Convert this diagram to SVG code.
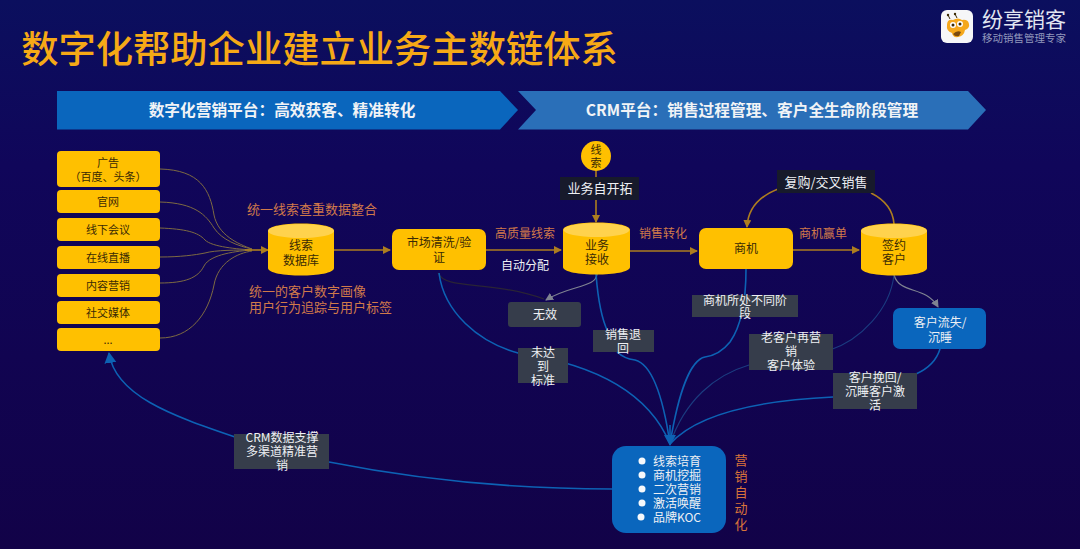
<svg xmlns="http://www.w3.org/2000/svg" width="1080" height="549" viewBox="0 0 1080 549">
<style>
text{font-family:"Noto Sans CJK SC","Noto Sans",sans-serif;text-anchor:middle}
.d{fill:#3a2a05;font-size:12px}
.s{font-size:11px}
.w{fill:#eef0f4;font-size:12px}
.h{fill:#eef0f4;font-size:13px}
.o{fill:#d07a4a;font-size:12px}
.u{fill:#d07a4a;font-size:13px}
.v{fill:#d9743a;font-size:13px}
.b{fill:#f1f3f6;font-size:15.700px;font-weight:700}
.n{fill:#ffc000}
.g{fill:#363d4b}
.k{fill:#171a2b}
.c{fill:none;stroke:#ad7d1f;stroke-width:1.6}
.t{fill:none;stroke:#7d6a42;stroke-width:1}
.l{fill:none;stroke:#0d62b4;stroke-width:1.6}
.f{fill:none;stroke:#1b3c80;stroke-width:1.1}
.y{fill:none;stroke:#7f8391;stroke-width:1.2}
</style>
<defs>
<linearGradient id="bg" x1="0" y1="0" x2="0" y2="1"><stop offset="0" stop-color="#0b0f5e"/><stop offset=".3" stop-color="#10065a"/><stop offset="1" stop-color="#120248"/></linearGradient>
<marker id="ao" markerWidth="9" markerHeight="9" refX="7" refY="4" orient="auto" markerUnits="userSpaceOnUse"><path d="M0 0L8 4L0 8Z" fill="#ad7d1f"/></marker>
<marker id="ab" markerWidth="13" markerHeight="13" refX="10" refY="6" orient="auto" markerUnits="userSpaceOnUse"><path d="M0 0L11 6L0 12Z" fill="#0d62b4"/></marker>
<marker id="ag" markerWidth="9" markerHeight="9" refX="7" refY="4" orient="auto" markerUnits="userSpaceOnUse"><path d="M0 0L8 4L0 8Z" fill="#7f8391"/></marker>
</defs>
<rect width="1080" height="549" fill="url(#bg)"/>
<text x="319.500" y="63" style="font-size:37.300px;font-weight:500;fill:#f6a916">数字化帮助企业建立业务主数链体系</text>
<g id="logo">
<rect x="941" y="10" width="32" height="33" rx="6" fill="#f6f6f8"/>
<path d="M947 25Q947 19 953 20Q958 17 962 20Q968 19 969 24Q970 28 965 30Q964 36 958 37Q953 38 952 33Q946 31 947 25Z" fill="#f5a81c"/>
<path d="M953 34Q957 30 961 32L959 36Q955 37 953 34Z" fill="#7a4a10"/>
<path d="M950 19L948 15M957 18L955 14" stroke="#3a2a05" stroke-width="1" fill="none"/>
<circle cx="948" cy="15" r="1.200" fill="#3a2a05"/><circle cx="955" cy="14" r="1.200" fill="#3a2a05"/>
<circle cx="953" cy="25" r="3" fill="#fff"/><circle cx="960" cy="24" r="3" fill="#fff"/>
<circle cx="953" cy="25" r="1.500" fill="#3a2a05"/><circle cx="960" cy="24" r="1.500" fill="#3a2a05"/>
<text x="1024" y="27" style="font-size:21px;fill:#e2e6f0">纷享销客</text>
<text x="1024" y="42" style="font-size:10.500px;fill:#9298bc">移动销售管理专家</text>
</g>
<g id="banner-marketing"><path d="M57 91H500L518 110L500 129.500H57Z" fill="#0a66bd"/><text class="b" x="282" y="116">数字化营销平台：高效获客、精准转化</text></g>
<g id="banner-crm"><path d="M518 91H968L986 110L968 129.500H518L536 110Z" fill="#2a6fb8"/><text class="b" x="752" y="116">CRM平台：销售过程管理、客户全生命阶段管理</text></g>

<g id="connectors">
<path class="t" d="M160 169C200 170 210 190 214 215C218 235 238 244 252 249"/>
<path class="t" d="M160 202C195 203 206 215 214 228C222 240 238 246 252 249"/>
<path class="t" d="M160 228C185 229 198 232 205 240C212 247 238 249 252 250"/>
<path class="t" d="M160 257C180 257 195 255 205 253C215 250 238 250 252 250"/>
<path class="t" d="M160 283C185 283 198 278 204 266C210 254 238 251 252 250"/>
<path class="t" d="M160 338C190 338 208 315 214 285C218 262 238 253 252 251"/>
<path class="c" d="M245 250H268" marker-end="url(#ao)"/>
<path class="c" d="M334 250H390" marker-end="url(#ao)"/>
<path class="c" d="M486 250H561" marker-end="url(#ao)"/>
<path class="c" d="M630 251H697" marker-end="url(#ao)"/>
<path class="c" d="M793 250H859" marker-end="url(#ao)"/>
<path class="c" d="M596 171V222" marker-end="url(#ao)"/>
<path class="c" d="M778 189C760 196 748 207 747 227" marker-end="url(#ao)"/>
<path class="c" d="M871 193C885 200 893 210 894 224"/>
<path d="M438 273C445 290 490 280 544 299" fill="none" stroke="#2a2436" stroke-width="1.200"/>
<path class="y" d="M597 274C596 288 570 285 546 300" marker-end="url(#ag)"/>
<path class="y" d="M894 275C900 295 925 285 938 307" marker-end="url(#ag)"/>
<path class="l" d="M439 273C444 312 478 342 518 353C600 365 650 395 670 444"/>
<path class="l" d="M596 274C598 300 602 320 608 332C612 350 620 358 635 360C655 365 665 410 670 444"/>
<path class="l" d="M746 269C746 295 742 325 730 342C722 352 712 356 705 357C690 360 678 395 670 444"/>
<path class="f" d="M894 275C890 310 860 340 830 350M749 365C715 375 685 400 670 444"/>
<path class="l" d="M940 349C936 362 925 370 916 374M833 397C770 400 700 410 670 444"/>
<path class="l" d="M670 425L670 445" marker-end="url(#ab)"/>
<path class="l" d="M612 489C520 489 420 480 329 462M235 437C170 415 115 395 109 353" marker-end="url(#ab)"/>
</g>

<g id="n-ad"><rect class="n" x="57" y="151" width="103" height="36" rx="4"/><text class="d s" x="108" y="167">广告</text><text class="d s" x="108" y="181">（百度、头条）</text></g>
<g id="n-web"><rect class="n" x="57" y="190" width="103" height="23" rx="4"/><text class="d s" x="108" y="206">官网</text></g>
<g id="n-offline"><rect class="n" x="57" y="218" width="103" height="23" rx="4"/><text class="d s" x="108" y="234">线下会议</text></g>
<g id="n-live"><rect class="n" x="57" y="246" width="103" height="23" rx="4"/><text class="d s" x="108" y="262">在线直播</text></g>
<g id="n-content"><rect class="n" x="57" y="274" width="103" height="23" rx="4"/><text class="d s" x="108" y="290">内容营销</text></g>
<g id="n-social"><rect class="n" x="57" y="301" width="103" height="23" rx="4"/><text class="d s" x="108" y="317">社交媒体</text></g>
<g id="n-more"><rect class="n" x="57" y="328" width="103" height="23" rx="4"/><text class="d s" x="108" y="344">...</text></g>

<g id="n-db"><path class="n" d="M268 231C268 221 334 221 334 231V268C334 278 268 278 268 268Z"/><ellipse cx="301" cy="231" rx="33" ry="7" fill="#ffd24d"/><text class="d" x="301" y="250">线索</text><text class="d" x="301" y="265">数据库</text></g>
<g id="n-clean"><rect class="n" x="392" y="229" width="94" height="41" rx="7"/><text class="d" x="439" y="247">市场清洗/验</text><text class="d" x="439" y="262">证</text></g>
<g id="n-recv"><path class="n" d="M563 230C563 220 630 220 630 230V267C630 277 563 277 563 267Z"/><ellipse cx="596.500" cy="230" rx="33" ry="7" fill="#ffd24d"/><text class="d" x="597" y="250">业务</text><text class="d" x="597" y="264">接收</text></g>
<g id="n-opp"><rect class="n" x="699" y="228" width="94" height="41" rx="7"/><text class="d" x="746" y="253">商机</text></g>
<g id="n-sign"><path class="n" d="M861 231C861 221 927 221 927 231V268C927 278 861 278 861 268Z"/><ellipse cx="894" cy="231" rx="33" ry="7" fill="#ffd24d"/><text class="d" x="894" y="250">签约</text><text class="d" x="894" y="264">客户</text></g>
<g id="n-lost"><rect x="893" y="308" width="93" height="41" rx="7" fill="#0a66bd"/><text class="w" x="940" y="327">客户流失/</text><text class="w" x="940" y="342">沉睡</text></g>
<g id="n-clue"><circle cx="596" cy="156" r="15" class="n"/><text class="d s" x="596" y="154">线</text><text class="d s" x="596" y="167">索</text></g>
<g id="n-auto"><rect x="612" y="446" width="114" height="87" rx="14" fill="#0a66bd"/>
<g fill="#f6f8fb"><circle cx="642" cy="461" r="3.500"/><circle cx="642" cy="475" r="3.500"/><circle cx="642" cy="489" r="3.500"/><circle cx="642" cy="503" r="3.500"/><circle cx="641" cy="517" r="3.500"/></g>
<text class="w" x="677" y="466">线索培育</text><text class="w" x="677" y="480">商机挖掘</text><text class="w" x="677" y="494">二次营销</text><text class="w" x="677" y="508">激活唤醒</text><text class="w" x="677" y="522">品牌KOC</text></g>

<g id="l-self"><rect class="k" x="560" y="177" width="79" height="23"/><text class="h" x="600" y="193">业务自开拓</text></g>
<g id="l-repurchase"><rect class="k" x="777" y="170" width="98" height="23"/><text class="h" x="826" y="187">复购/交叉销售</text></g>
<g id="l-invalid"><rect class="g" x="508" y="302" width="73" height="25" rx="3"/><text class="w" x="545" y="319">无效</text></g>
<g id="l-unmet"><rect class="g" x="518" y="348" width="50" height="35"/><text class="w" x="543" y="357">未达</text><text class="w" x="543" y="371">到</text><text class="w" x="543" y="385">标准</text></g>
<g id="l-return"><rect class="g" x="593" y="330" width="61" height="22"/><text class="w" x="623" y="339">销售退</text><text class="w" x="623" y="353">回</text></g>
<g id="l-stage"><rect class="g" x="692" y="295" width="106" height="22"/><text class="w" x="745" y="305">商机所处不同阶</text><text class="w" x="745" y="318">段</text></g>
<g id="l-old"><rect class="g" x="749" y="334" width="84" height="36"/><text class="w" x="791" y="342">老客户再营</text><text class="w" x="791" y="356">销</text><text class="w" x="791" y="370">客户体验</text></g>
<g id="l-winback"><rect class="g" x="833" y="373" width="84" height="36"/><text class="w" x="875" y="382">客户挽回/</text><text class="w" x="875" y="396">沉睡客户激</text><text class="w" x="875" y="410">活</text></g>
<g id="l-crm"><rect class="g" x="234" y="434" width="95" height="35"/><text class="w" x="282" y="442">CRM数据支撑</text><text class="w" x="282" y="456">多渠道精准营</text><text class="w" x="282" y="470">销</text></g>

<g id="labels">
<text class="u" x="312" y="214">统一线索查重数据整合</text>
<text class="u" x="249" y="296" style="text-anchor:start">统一的客户数字画像</text>
<text class="u" x="249" y="312" style="text-anchor:start">用户行为追踪与用户标签</text>
<text class="o" x="525" y="238">高质量线索</text>
<text class="w" x="525" y="270">自动分配</text>
<text class="o" x="663" y="238">销售转化</text>
<text class="o" x="823" y="238">商机赢单</text>
<text class="v" x="741" y="465">营</text><text class="v" x="741" y="481">销</text><text class="v" x="741" y="497">自</text><text class="v" x="741" y="513">动</text><text class="v" x="741" y="529">化</text>
</g>
</svg>
